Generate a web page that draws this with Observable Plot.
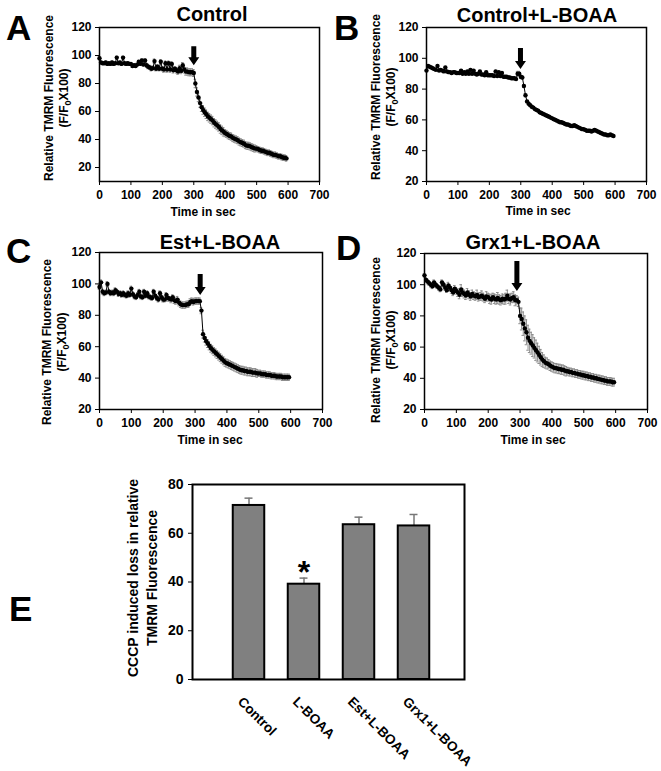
<!DOCTYPE html>
<html><head><meta charset="utf-8">
<script src="https://cdn.jsdelivr.net/npm/d3@7"></script>
<script src="https://cdn.jsdelivr.net/npm/@observablehq/plot@0.6"></script>
<style>
body{margin:0;background:#fff;}
#fig{position:relative;width:661px;height:771px;overflow:hidden;background:#fff;}
#fig svg{position:absolute;}
</style></head><body><div id="fig"></div>
<script>
// ---------- data ----------
const timeSec = [0,5,10,15,20,25,30,35,40,45,
50,55,60,65,70,75,80,85,90,95,
100,105,110,115,120,125,130,135,140,145,
150,155,160,165,170,175,180,185,190,195,
200,205,210,215,220,225,230,235,240,245,
250,255,260,265,270,275,280,285,290,295,
300,305,310,315,320,325,330,335,340,345,
350,355,360,365,370,375,380,385,390,395,
400,405,410,415,420,425,430,435,440,445,
450,455,460,465,470,475,480,485,490,495,
500,505,510,515,520,525,530,535,540,545,
550,555,560,565,570,575,580,585,590,595];

const controlVals = [98,95,94.5,94.5,95,94,94.5,94,95,94,
94.5,98.5,94.5,95,94,98.5,94.5,94,94.5,94,
94,92.5,93,92.5,93.5,95.5,94,96.5,93.5,96.5,
93,92,91.5,90.5,91,96,90.5,92,90.5,95.5,
90.5,90,94.5,90,94.5,90,94,89.5,90.5,89.5,
88.5,91,89,93,90,88.5,88.5,88,88,88,
87.5,80,74,70,66,63,61,59.5,58,56.5,
55.5,54.5,53.5,52,51,50,49,47.5,46.5,45.5,
44.5,44,43,42.5,42,41,40.5,40,39.5,38.5,
38,37.5,37,36,35.5,35.5,35,34.5,34,33.5,
33.5,33,32.5,32,32,31.5,31,30.5,30.5,30,
29.5,29,29,28.5,28,28,27.5,27,27,26.5];
const controlErr = [1,1,1,1,1,1,1,1,1,1,
1,1,1,1,1,1,1,1,1,1,
1,1,1,1,1,1,1,1,1,1,
1.5,1.5,1.5,1.5,1.5,1.5,1.5,1.5,1.5,1.5,
1.5,2,1.5,2,1.5,2,1.5,2,1.5,2,
2,2,2,2,2.5,2.5,2.5,2.5,2.5,2.5,
2.5,3,3,3,3,3,3,3,3,3,
3,3,3,3,3,3,3,3,3,3,
2.5,2.5,2.5,2.5,2.5,2.5,2.5,2.5,2.5,2.5,
2.5,2.5,2.5,2.5,2.5,2.5,2.5,2.5,2.5,2.5,
2,2,2,2,2,2,2,2,2,2,
2,2,2,2,2,2,2,2,2,2];

const boaaVals = [92,95,94.5,94,93.5,93,92.5,95,92,92.5,
92,91.5,94,91.5,91,91,90.5,91,91,90.5,
90.5,90.5,92,90,91,90,91.5,90,92.5,90,
92,90,89.5,90,91.5,89.5,89.5,89,91,89,
89,89,89,88.5,91.5,88.5,91,88.5,90.5,88,
88,88,87.5,87.5,87,87,87,86.5,90,90,
88,87.5,82,76,72,70.5,69.5,68.5,68,67,
66.5,66,65,64.5,64,63.5,63,62.5,62,61.5,
61,60.5,60,59.5,59,58.5,58.5,58,57.5,57,
57,56.5,56,56,56.5,56,55.5,55,54.5,54,
54,53.5,53,53,53,52.5,53,53.5,53,52.5,
52,51.5,51,50.5,50.5,50,50,50.5,50,49.5];
const boaaErr = [0.5,0.5,0.5,0.5,0.5,0.5,0.5,0.5,0.5,0.5,
0.5,0.5,0.5,0.5,0.5,0.5,0.5,0.5,0.5,0.5,
0.5,0.5,0.5,0.5,0.5,0.5,0.5,0.5,0.5,0.5,
0.5,0.5,0.5,0.5,0.5,0.5,0.5,0.5,0.5,0.5,
0.5,0.5,0.5,0.5,0.5,0.5,0.5,0.5,0.5,0.5,
0.5,0.5,0.5,0.5,0.5,0.5,0.5,0.5,1.5,1.5,
1,1,1,1,0.5,0.5,0.5,0.5,0.5,0.5,
0.5,0.5,0.5,0.5,0.5,0.5,0.5,0.5,0.5,0.5,
0.5,0.5,0.5,0.5,0.5,0.5,0.5,0.5,0.5,0.5,
0.5,0.5,0.5,0.5,0.5,0.5,0.5,0.5,0.5,0.5,
0.5,0.5,0.5,0.5,0.5,0.5,0.5,0.5,0.5,0.5,
0.5,0.5,0.5,0.5,0.5,0.5,0.5,0.5,0.5,0.5];

const estVals = [98,101,95,94,94.5,100,95,94,94.5,94,
96,95,93.5,94,93,94,93,92.5,94,93,
97,93.5,92,91.5,93,95,92,91.5,95,92.5,
94,92,91.5,91,95,92.5,91,90,94,91.5,
90,90,93,91,90.5,90,91.5,89.5,89,90,
88,87,86.5,86.5,86.5,87,87,88.5,89,88.5,
89,89,89,89,83,68,65.5,63.5,62,60.5,
59,58,57,56,55,54,53,52,51,50,
49.5,49,48.5,48,47.5,47,46.5,46,45.5,45,
45,44.5,44.5,44,44,44,43.5,43.5,43.5,43,
43,43,42.5,42.5,42.5,42,42,42,41.5,41.5,
41.5,41,41,41,41,40.5,40.5,40.5,40.5,40.5];
const estErr = [1.5,1.5,1.5,1.5,1.5,1.5,1.5,1.5,1.5,1.5,
1.5,1.5,1.5,1.5,1.5,1.5,1.5,1.5,1.5,1.5,
1.5,1.5,1.5,1.5,1.5,1.5,1.5,1.5,1.5,1.5,
1.5,1.5,1.5,1.5,1.5,1.5,1.5,1.5,1.5,1.5,
1.5,1.5,1.5,2,1.5,2,1.5,2,2,2,
2,2,2,2,2,2,2,2,2,2,
2,2,2,2,2,2.5,2.5,2.5,2.5,2.5,
2.5,2.5,2.5,2.5,2.5,2.5,2.5,2.5,2.5,2.5,
2.5,2.5,2.5,2.5,2.5,2.5,2.5,2.5,2.5,2.5,
2.5,2.5,2.5,2.5,2.5,2.5,2.5,2.5,2.5,2.5,
2,2,2,2,2,2,2,2,2,2,
2,2,2,2,2,2,2,2,2,2];

const grxVals = [106,103,102,101,100,99,101.5,100,99,98,
97,101.5,100,98,96.5,99.5,98,96.5,95,97.5,
96,95,93.5,97,95,94,93,95,93.5,92.5,
94,93,92.5,93.5,92,92.5,93,92,91,92.5,
92,91,90.5,92,91,90.5,91.5,90.5,90,91,
90.5,91,93,91,90.5,91.5,92,90,90,89,
80,78,75,72,69.5,66,64,62.5,61,59.5,
58,56.5,55,53.5,52,51,50,49.5,49,48,
47.5,47,46.5,46.5,46,46,45.5,45.5,45,44.5,
44.5,44,44,43.5,43.5,43,43,42.5,42.5,42,
42,41.5,41.5,41,41,40.5,40.5,40,40,39.5,
39.5,39,39,38.5,38.5,38,38,38,37.5,37.5];
const grxErr = [1,1.5,1.5,1.5,1.5,1.5,1.5,1.5,1.5,1.5,
1.5,1.5,1.5,1.5,1.5,2,2,2,2,2,
2,2.5,2.5,3,2.5,2.5,2.5,2.5,2.5,2.5,
2.5,2.5,2.5,3,2.5,2.5,3,2.5,2.5,3,
2.5,3,3,2.5,3,3,3.5,3,3,3,
3,3.5,3.5,3,3.5,3,3.5,3.5,3,3,
5,7,7.5,8,8,8,7.5,7,7,6.5,
6.5,6,5.5,5,4.5,4,3.5,3.5,3,3,
3,3,3,3,3,3,3,3,3,3,
2.5,2.5,2.5,2.5,2.5,2.5,2.5,2.5,2.5,2.5,
2.5,2.5,2.5,2.5,2.5,2.5,2.5,2.5,2.5,2.5,
2.5,2.5,2.5,2.5,2.5,2.5,2.5,2.5,2.5,2.5];

// CCCP addition arrows (time, tip value)
const arrowTimes = [300, 299, 316, 290];
const arrowTips = [93, 93, 93, 96];

const xTickVals = [0,100,200,300,400,500,600,700];
const yTickVals = [20,40,60,80,100,120];

const panelTitles = ["Control","Control+L-BOAA","Est+L-BOAA","Grx1+L-BOAA"];
const panelLetters = ["A","B","C","D","E"];

const barCats = ["Control","L-BOAA","Est+L-BOAA","Grx1+L-BOAA"];
const barVals = [71.4, 39.1, 63.5, 63.0];
const barErr = [3.0, 2.5, 3.1, 4.7];
const barTicks = [0,20,40,60,80];

// ---------- drawing ----------
const fig = document.getElementById("fig");
const FONT = "'Liberation Sans', Arial, sans-serif";

function arrowSymbol(len) {
  return {draw(ctx) {
    ctx.moveTo(-2.5, -len); ctx.lineTo(2.5, -len); ctx.lineTo(2.5, -8);
    ctx.lineTo(5.5, -8); ctx.lineTo(0, 0); ctx.lineTo(-5.5, -8);
    ctx.lineTo(-2.5, -8); ctx.closePath();
  }};
}

function timePanel(i, vals, errs, cfg) {
  const data = timeSec.map((t, k) => ({t, v: vals[k], e: errs[k]}));
  const svg = Plot.plot({
    width: cfg.w, height: cfg.h,
    marginLeft: cfg.m[0], marginRight: cfg.m[1], marginTop: cfg.m[2], marginBottom: cfg.m[3],
    style: {fontFamily: FONT, fontSize: "12px", fontWeight: "bold", color: "black", background: "transparent", overflow: "visible"},
    x: {domain: [0, 700]},
    y: {domain: cfg.yDomain},
    marks: [
      Plot.ruleX(data, {x: "t", y1: d => d.v - d.e, y2: d => d.v + d.e, stroke: "#8c8c8c", strokeWidth: 1}),
      Plot.ruleY(data, {y: d => d.v + d.e, x1: d => d.t - 4, x2: d => d.t + 4, stroke: "#8c8c8c", strokeWidth: 1}),
      Plot.ruleY(data, {y: d => d.v - d.e, x1: d => d.t - 4, x2: d => d.t + 4, stroke: "#8c8c8c", strokeWidth: 1}),
      Plot.line(data, {x: "t", y: "v", stroke: "black", strokeWidth: 1}),
      Plot.dot(data, {x: "t", y: "v", r: 2.2, fill: "black"}),
      Plot.dot([{t: arrowTimes[i], v: arrowTips[i]}], {x: "t", y: "v", symbol: arrowSymbol(cfg.arrowLen), fill: "black", r: 5}),
      Plot.axisX({ticks: xTickVals, tickSize: 4, tickPadding: 5, label: null}),
      Plot.axisY({ticks: yTickVals, tickSize: 4, tickPadding: 4, label: null}),
      Plot.frame({stroke: "black", strokeWidth: 1.5})
    ]
  });
  svg.style.left = cfg.left + "px";
  svg.style.top = cfg.top + "px";
  fig.appendChild(svg);
}

timePanel(0, controlVals, controlErr, {left: 0, top: 0, w: 330, h: 220, m: [99, 11, 27, 39], yDomain: [10, 120], arrowLen: 19});
timePanel(1, boaaVals, boaaErr, {left: 330, top: 0, w: 331, h: 220, m: [96, 15, 27, 39], yDomain: [20, 120], arrowLen: 21});
timePanel(2, estVals, estErr, {left: 0, top: 220, w: 330, h: 240, m: [99, 8, 32, 51], yDomain: [20, 120], arrowLen: 21});
timePanel(3, grxVals, grxErr, {left: 330, top: 220, w: 331, h: 240, m: [94, 14, 33, 51], yDomain: [20, 120], arrowLen: 30});

// ---------- bar chart E ----------
const barData = barCats.map((c, k) => ({c, v: barVals[k], e: barErr[k]}));
const eSvg = Plot.plot({
  width: 661, height: 311,
  marginLeft: 192, marginRight: 197, marginTop: 24, marginBottom: 92,
  style: {fontFamily: FONT, fontSize: "14px", fontWeight: "bold", color: "black", background: "transparent", overflow: "visible"},
  x: {type: "band", domain: barCats, range: [219.5, 441.5], padding: 0, axis: null},
  y: {domain: [0, 80]},
  marks: [
    Plot.ruleX(barData, {x: "c", y1: "v", y2: d => d.v + d.e, stroke: "#777", strokeWidth: 1.5}),
    Plot.tickY(barData, {x: "c", y: d => d.v + d.e, stroke: "#777", strokeWidth: 1.5, insetLeft: 23.5, insetRight: 23.5}),
    Plot.barY(barData, {x: "c", y: "v", fill: "#808080", stroke: "black", strokeWidth: 2, insetLeft: 11.75, insetRight: 11.75}),
    Plot.text(barData.filter(d => d.c === "L-BOAA"), {x: "c", y: d => d.v + d.e, text: () => "*", fontSize: 32, dy: -5}),
    Plot.text(barData, {x: "c", text: "c", frameAnchor: "bottom", rotate: 45, textAnchor: "start", lineAnchor: "bottom", dx: -12, dy: 23, fontSize: 13.5}),
    Plot.axisY({ticks: barTicks, tickSize: 4, tickPadding: 5, label: null}),
    Plot.frame({stroke: "black", strokeWidth: 2})
  ]
});
eSvg.style.left = "0px";
eSvg.style.top = "460px";
fig.appendChild(eSvg);

// ---------- annotations (letters, titles, axis titles) ----------
const titlePos = [[212, 21], [537, 22], [220, 249], [533, 249]];
const letterPos = [[6, 40], [334, 40], [6, 263], [336, 260], [9, 621]];
const timeLabelPos = [[203, 216], [538, 215], [210, 444], [533, 444]];
const yLabPos = [[53, 68, 98], [380, 395, 97], [51, 66, 342], [380, 395, 340]];

let s = "";
panelLetters.forEach((L, k) => {
  s += `<text x="${letterPos[k][0]}" y="${letterPos[k][1]}" font-size="35">${L}</text>`;
});
panelTitles.forEach((T, k) => {
  s += `<text x="${titlePos[k][0]}" y="${titlePos[k][1]}" font-size="20" text-anchor="middle">${T}</text>`;
  s += `<text x="${timeLabelPos[k][0]}" y="${timeLabelPos[k][1]}" font-size="12" text-anchor="middle">Time in sec</text>`;
  const [x1, x2, cy] = yLabPos[k];
  s += `<text transform="translate(${x1},${cy}) rotate(-90)" font-size="12" text-anchor="middle">Relative TMRM Fluorescence</text>`;
  s += `<text transform="translate(${x2},${cy}) rotate(-90)" font-size="12" text-anchor="middle">(F/F<tspan font-size="9" dy="3">0</tspan><tspan dy="-3">X100)</tspan></text>`;
});
s += `<text transform="translate(138,578) rotate(-90)" font-size="14" text-anchor="middle">CCCP induced loss in relative</text>`;
s += `<text transform="translate(157,578) rotate(-90)" font-size="14" text-anchor="middle">TMRM Fluorescence</text>`;

const ov = document.createElementNS("http://www.w3.org/2000/svg", "svg");
ov.setAttribute("width", 661);
ov.setAttribute("height", 771);
ov.setAttribute("font-family", FONT);
ov.setAttribute("font-weight", "bold");
ov.style.left = "0px"; ov.style.top = "0px"; ov.style.pointerEvents = "none";
ov.innerHTML = s;
fig.appendChild(ov);
</script></body></html>
